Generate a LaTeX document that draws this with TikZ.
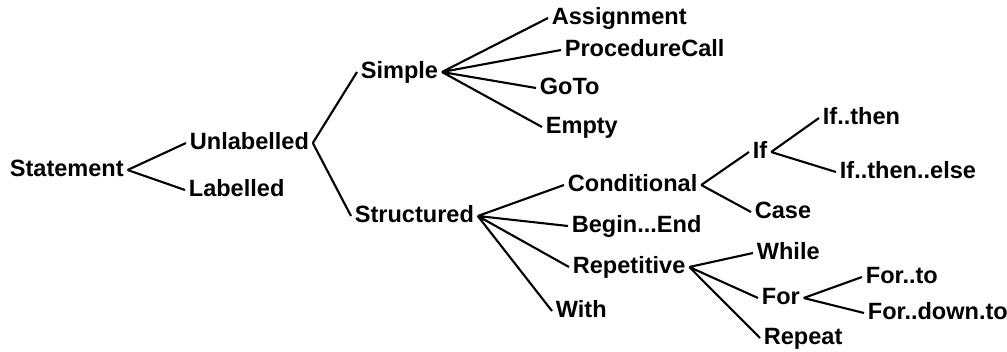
\documentclass[tikz,border=0pt]{standalone}
\usepackage{fontspec}
\setmainfont{Liberation Sans}
\usepackage{tikz}

\begin{document}
\begin{tikzpicture}
		[x=0.2mm, y=-0.2mm,
		tnode/.style={anchor=west, inner xsep=2pt, inner ysep=0pt,
			text height=0.72em, text depth=0pt,
			font=\fontsize{13.4}{15}\selectfont\bfseries},
		branch/.style={line width=1.2pt, black}]
		
		\useasboundingbox (0,0) rectangle (1007,351);
		
		% level 0 and 1
		\node[tnode] (stmt) at (6,170) {Statement};
		\node[tnode] (unlab) at (186,143) {Unlabelled};
		\node[tnode] (lab) at (185,190) {Labelled};
		
		% unlabelled
		\node[tnode] (simple) at (357,72) {Simple};
		\node[tnode] (struct) at (351,216) {Structured};
		
		% simple statements
		\node[tnode] (assign) at (548,18) {Assignment};
		\node[tnode] (proc) at (561,50) {ProcedureCall};
		\node[tnode] (goto) at (536,88) {GoTo};
		\node[tnode] (empty) at (542,127) {Empty};
		
		% structured statements
		\node[tnode] (cond) at (564,185) {Conditional};
		\node[tnode] (beginend) at (568,226) {Begin...End};
		\node[tnode] (repet) at (569,267) {Repetitive};
		\node[tnode] (with) at (552,311) {With};
		
		\node[tnode] (if) at (749,152) {If};
		\node[tnode] (case) at (751,212) {Case};
		\node[tnode] (ifthen) at (819,118) {If..then};
		\node[tnode] (ifelse) at (836,172) {If..then..else};
		
		\node[tnode] (while) at (753,253) {While};
		\node[tnode] (for) at (758,298) {For};
		\node[tnode] (repeat) at (760,338) {Repeat};
		\node[tnode] (forto) at (862,277) {For..to};
		\node[tnode] (fordown) at (864,313) {For..down.to};
		
		\draw[branch] (stmt.east) -- (unlab.west) (stmt.east) -- (lab.west);
		\draw[branch] (unlab.east) -- (simple.west) (unlab.east) -- (struct.west);
		\draw[branch] (simple.east) -- (assign.west) (simple.east) -- (proc.west)
		(simple.east) -- (goto.west) (simple.east) -- (empty.west);
		\draw[branch] (struct.east) -- (cond.west) (struct.east) -- (beginend.west)
		(struct.east) -- (repet.west) (struct.east) -- (with.west);
		\draw[branch] (cond.east) -- (if.west) (cond.east) -- (case.west);
		\draw[branch] (if.east) -- (ifthen.west) (if.east) -- (ifelse.west);
		\draw[branch] (repet.east) -- (while.west) (repet.east) -- (for.west)
		(repet.east) -- (repeat.west);
		\draw[branch] (for.east) -- (forto.west) (for.east) -- (fordown.west);
		
\end{tikzpicture}
\end{document}
